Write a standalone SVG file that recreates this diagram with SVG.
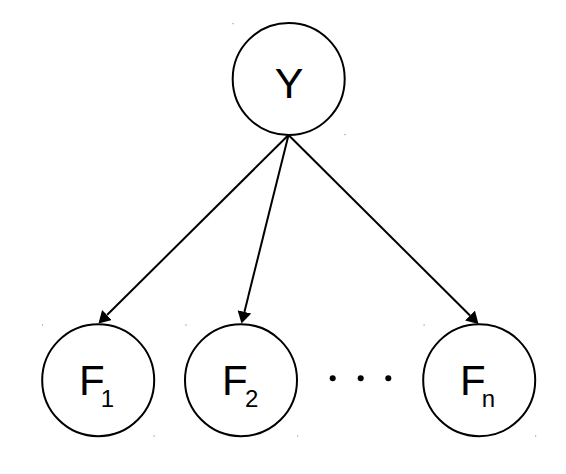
<svg xmlns="http://www.w3.org/2000/svg" width="566" height="474" viewBox="0 0 566 474">
<style>
.node{fill:#fff;stroke:#000;stroke-width:2}
.lbl{font-family:"Liberation Sans",Arial,sans-serif;fill:#000}
.big{font-size:42px}
.sub{font-size:24px}
.edge{stroke:#000;stroke-width:2;fill:none}
.mark{fill:#999}
</style>
<defs>
<marker id="ah" markerUnits="userSpaceOnUse" orient="auto" viewBox="0 -7 12 14" refX="0" refY="0" markerWidth="12" markerHeight="14">
<path d="M0,-7 L12,0 L0,7 z" fill="#000"/>
</marker>
</defs>
<rect width="566" height="474" fill="#fff"/>
<g id="marks">
<rect class="mark" x="232.5" y="23" width="1.2" height="1.2"/>
<rect class="mark" x="344.5" y="134" width="1.2" height="1.2"/>
<rect class="mark" x="42" y="324.5" width="1.2" height="1.2"/>
<rect class="mark" x="153.5" y="435.5" width="1.2" height="1.2"/>
<rect class="mark" x="185.5" y="324.5" width="1.2" height="1.2"/>
<rect class="mark" x="297" y="435.5" width="1.2" height="1.2"/>
<rect class="mark" x="423.5" y="324.5" width="1.2" height="1.2"/>
<rect class="mark" x="535" y="435.5" width="1.2" height="1.2"/>
</g>
<g id="connectors">
<line class="edge" x1="288.5" y1="135" x2="107" y2="315" marker-end="url(#ah)"/>
<line class="edge" x1="288.5" y1="135" x2="244.4" y2="311.9" marker-end="url(#ah)"/>
<line class="edge" x1="288.5" y1="135" x2="470" y2="315.5" marker-end="url(#ah)"/>
</g>
<g id="Y">
<circle class="node" cx="288.7" cy="79" r="56"/>
<text class="lbl" x="289" y="98" font-size="43" text-anchor="middle">Y</text>
</g>
<g id="F1">
<circle class="node" cx="98.2" cy="380.2" r="56"/>
<text class="lbl big" x="79" y="395">F<tspan class="sub" x="100.7" y="407">1</tspan></text>
</g>
<g id="F2">
<circle class="node" cx="241" cy="380.2" r="56"/>
<text class="lbl big" x="222" y="395">F<tspan class="sub" x="245" y="407">2</tspan></text>
</g>
<g id="ellipsis">
<circle cx="332.7" cy="378.3" r="3" fill="#000"/>
<circle cx="360.7" cy="378.3" r="3" fill="#000"/>
<circle cx="388.3" cy="378.3" r="3" fill="#000"/>
</g>
<g id="Fn">
<circle class="node" cx="479.2" cy="380.2" r="56"/>
<text class="lbl big" x="460" y="395">F<tspan class="sub" x="481.7" y="407">n</tspan></text>
</g>
</svg>
